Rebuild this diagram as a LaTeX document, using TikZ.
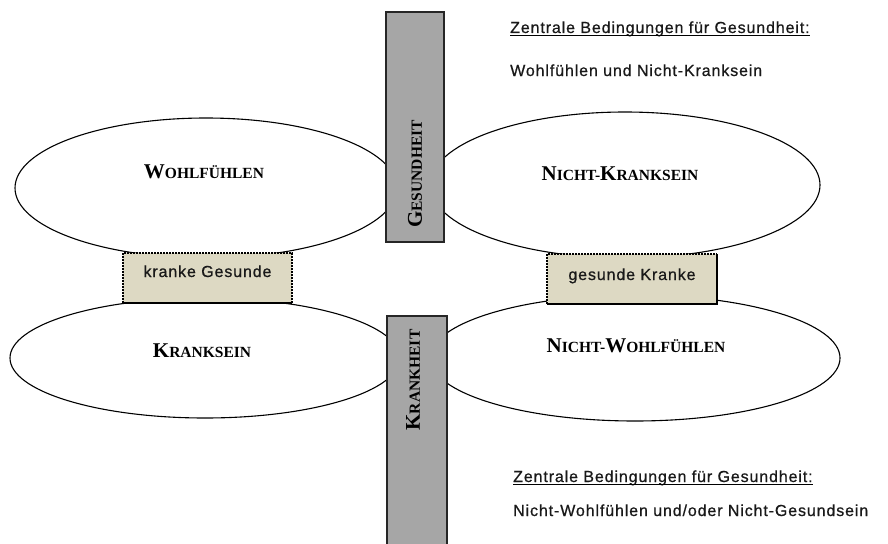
\documentclass[tikz,border=0pt]{standalone}
\usepackage{fontspec}
\setmainfont{Liberation Serif}
\newfontfamily\labelsans[LetterSpace=5.5,FakeBold=0.7]{Liberation Sans}
\usetikzlibrary{shapes.geometric}

% hand-made small capitals: large initial, smaller rest
\newcommand{\capbig}[1]{{\fontsize{21}{21}\selectfont #1}}
\newcommand{\capsmall}[1]{{\fontsize{15.5}{15.5}\selectfont #1}}

\definecolor{bargray}{HTML}{A6A6A6}
\definecolor{boxtan}{HTML}{DDD9C3}

\tikzset{
  oval/.style={ellipse, draw=black, line width=1.1pt, fill=white, inner sep=0pt},
  ovaltext/.style={anchor=base, inner sep=0pt, font=\bfseries},
  bar/.style={draw=black!85, line width=1.1pt, fill=bargray},
  bartext/.style={rotate=90, inner sep=0pt, font=\bfseries},
  dotedge/.style={line width=2pt, densely dotted, line cap=butt},
  solidedge/.style={line width=2.4pt},
  note/.style={anchor=base west, inner sep=0pt, text=black!90, font=\labelsans\fontsize{16}{16}\selectfont},
}

\begin{document}
\begin{tikzpicture}[x=1pt, y=-1pt]
\useasboundingbox (0,0) rectangle (888,543);

% the four ovals
\node[oval, minimum width=382, minimum height=140] (wohl) at (206,188) {};
\node[oval, minimum width=390, minimum height=146] (nkrank) at (625,185) {};
\node[oval, minimum width=390, minimum height=120] (krank) at (205,358) {};
\node[oval, minimum width=410, minimum height=126] (nwohl) at (635,358) {};

\node[ovaltext] (twohl) at (204,178) {\capbig{W}\capsmall{OHLFÜHLEN}};
\node[ovaltext] (tnkrank) at (620,180) {\capbig{N}\capsmall{ICHT-}\capbig{K}\capsmall{RANKSEIN}};
\node[ovaltext] (tkrank) at (202,357) {\capbig{K}\capsmall{RANKSEIN}};
\node[ovaltext] (tnwohl) at (636,352) {\capbig{N}\capsmall{ICHT-}\capbig{W}\capsmall{OHLFÜHLEN}};

% box: kranke Gesunde
\coordinate (kgnw) at (123,253);
\coordinate (kgne) at (292,253);
\coordinate (kgsw) at (123,303);
\coordinate (kgse) at (292,303);
\fill[boxtan] (kgnw) rectangle (kgse);
\draw[dotedge] (kgsw) -- (kgnw) -- (kgne) -- (kgse);
\draw[solidedge] (kgsw) -- (kgse);
\node[note, anchor=base] (kg) at (207.5,277) {kranke Gesunde};

% box: gesunde Kranke
\coordinate (gknw) at (547,254);
\coordinate (gkne) at (717,254);
\coordinate (gksw) at (547,304);
\coordinate (gkse) at (717,304);
\fill[boxtan] (gknw) rectangle (gkse);
\draw[dotedge] (gksw) -- (gknw) -- (gkne);
\draw[solidedge] (gkne) -- (gkse) -- (gksw);
\node[note, anchor=base] (gk) at (632,280) {gesunde Kranke};

% the two vertical bars
\draw[bar] (386,12) rectangle (444,242);
\node[bartext] (gesund) at (415,174) {\capbig{G}\capsmall{ESUNDHEIT}};
\draw[bar] (387,316) rectangle (447,548);
\node[bartext] (krankheit) at (413,380) {\capbig{K}\capsmall{RANKHEIT}};

% notes on the right, headings underlined
\node[note] (h1) at (510,33) {Zentrale Bedingungen für Gesundheit:};
\draw[line width=1.5pt] ([yshift=-2.5pt]h1.base west) -- ([yshift=-2.5pt]h1.base east);
\node[note] (l1) at (510,76) {Wohlfühlen und Nicht-Kranksein};

\node[note] (h2) at (513,482) {Zentrale Bedingungen für Gesundheit:};
\draw[line width=1.5pt] ([yshift=-2.5pt]h2.base west) -- ([yshift=-2.5pt]h2.base east);
\node[note] (l2) at (513,516) {Nicht-Wohlfühlen und/oder Nicht-Gesundsein};
\end{tikzpicture}
\end{document}
